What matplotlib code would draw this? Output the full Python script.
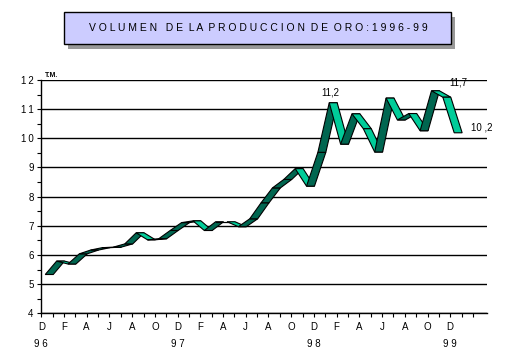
import matplotlib
matplotlib.use("Agg")
import matplotlib.pyplot as plt
from matplotlib.patches import Polygon, Rectangle

# ============================================================
# Data: monthly gold production (T.M.), Dec 1996 - Dec 1999
# ============================================================

values = [
    5.33, 5.79, 5.69, 6.04, 6.17, 6.25, 6.27, 6.38, 6.76, 6.52,
    6.56, 6.84, 7.11, 7.17, 6.84, 7.14, 7.14, 6.97, 7.24, 7.79,
    8.30, 8.59, 8.96, 8.36, 9.52, 11.22, 9.80, 10.84, 10.33, 9.53,
    11.38, 10.63, 10.85, 10.26, 11.63, 11.41, 10.19,
]
month_labels = ["D", "F", "A", "J", "A", "O"] * 3 + ["D"]
year_labels = ["96", "97", "98", "99"]
point_labels = {25: "11,2", 35: "11,7", 36: "10 ,2"}

title = "V O L U M E N   D E  L A  P R O D U C C I O N  D E  O R O : 1 9 9 6 - 9 9"

DARK = "#006650"
LIGHT = "#00cc99"
THIN = "\u2009"

plt.rcParams["font.family"] = ["Liberation Sans", "DejaVu Sans"]

fig = plt.figure(figsize=(5.06, 3.57), dpi=100)
ax = fig.add_axes([0.0816, 0.1224, 0.880, 0.6535])

# ------------------------------------------------------------
# 3D-looking ribbon
# ------------------------------------------------------------
shift = 0.35   # front edge offset (months)
depth = 0.7    # ribbon depth (months)
for i in range(len(values) - 1):
    y0, y1 = values[i], values[i + 1]
    poly = [(i + shift, y0), (i + shift + depth, y0),
            (i + 1 + shift + depth, y1), (i + 1 + shift, y1)]
    color = DARK if y1 >= y0 else LIGHT
    ax.add_patch(Polygon(poly, closed=True, facecolor=color,
                         edgecolor="black", linewidth=0.8, zorder=3))

# data labels
offsets = {25: (1, 4), 35: (11, 7), 36: (20, 0)}
for idx, txt in point_labels.items():
    ax.annotate(txt, (idx + shift, values[idx]), xytext=offsets[idx],
                textcoords="offset points", ha="center", va="bottom",
                fontsize=7, zorder=5)

# ------------------------------------------------------------
# Axes styling
# ------------------------------------------------------------
ax.set_xlim(0, 39.2)
ax.set_ylim(4, 12)

ax.set_yticks(range(4, 13))
ax.set_yticklabels([THIN.join(str(v)) for v in range(4, 13)], fontsize=7)
ax.set_yticks([v + 0.5 for v in range(4, 12)], minor=True)
ax.yaxis.grid(True, color="black", linewidth=1.0)
ax.set_axisbelow(True)

ax.set_xticks(range(0, 39), minor=True)
ax.set_xticks(range(0, 37, 2))
ax.set_xticklabels(month_labels, fontsize=7)

ax.tick_params(axis="y", which="both", length=3, width=0.8, pad=2.5)
ax.tick_params(axis="x", which="both", length=3, width=0.8, pad=3)

for side in ["top", "right"]:
    ax.spines[side].set_visible(False)
for side in ["left", "bottom"]:
    ax.spines[side].set_linewidth(1.0)

for k, yr in enumerate(year_labels):
    ax.text(k * 12, -0.13, " ".join(yr), transform=ax.get_xaxis_transform(),
            ha="center", va="center", fontsize=7)

ax.text(0.008, 1.005, "T.M.", transform=ax.transAxes, ha="left", va="bottom",
        fontsize=5, fontweight="bold")

# ------------------------------------------------------------
# Title box with shadow
# ------------------------------------------------------------
bx, by, bw, bh = 0.127, 0.8759, 0.7636, 0.0896
fig.patches.append(Rectangle((bx + 0.008, by - 0.014), bw, bh,
                             transform=fig.transFigure, facecolor="#999999",
                             edgecolor="none", zorder=0))
fig.patches.append(Rectangle((bx, by), bw, bh, transform=fig.transFigure,
                             facecolor="#ccccff", edgecolor="black",
                             linewidth=1.0, zorder=1))
fig.text(0.5115, 0.9207, title, ha="center", va="center", fontsize=7.5,
         zorder=2)

fig.savefig("out.png", dpi=100)
